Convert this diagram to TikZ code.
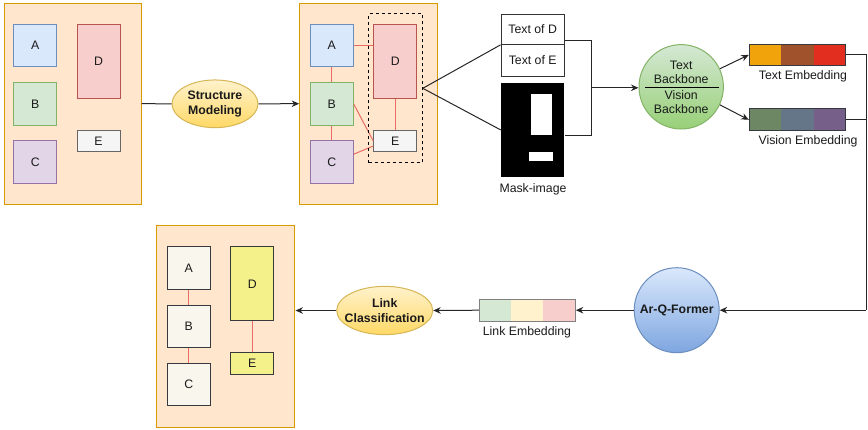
\documentclass[tikz,border=0pt]{standalone}
\usepackage{fontspec}
\setmainfont{Liberation Sans}
\usetikzlibrary{arrows.meta,calc,shapes.geometric}
\definecolor{pnlF}{HTML}{FFE6CC}\definecolor{pnlD}{HTML}{D79B00}
\definecolor{aF}{HTML}{DAE8FC}\definecolor{aD}{HTML}{6C8EBF}
\definecolor{bF}{HTML}{D5E8D4}\definecolor{bD}{HTML}{82B366}
\definecolor{cF}{HTML}{E1D5E7}\definecolor{cD}{HTML}{9673A6}
\definecolor{dF}{HTML}{F8CECC}\definecolor{dD}{HTML}{B85450}
\definecolor{eF}{HTML}{F5F5F5}\definecolor{eD}{HTML}{666666}
\definecolor{wF}{HTML}{F9F7ED}\definecolor{gD}{HTML}{36393D}
\definecolor{yF}{HTML}{F4F18A}
\definecolor{redl}{HTML}{EA6B66}
\definecolor{ylT}{HTML}{FFF2CC}\definecolor{ylB}{HTML}{FFD966}\definecolor{ylD}{HTML}{D6B656}
\definecolor{grT}{HTML}{D5E8D4}\definecolor{grB}{HTML}{97D077}
\definecolor{blT}{HTML}{DAE8FC}\definecolor{blB}{HTML}{7EA6E0}
\definecolor{t1}{HTML}{F0A30A}\definecolor{t2}{HTML}{A0522D}\definecolor{t3}{HTML}{E12E1E}
\definecolor{v1}{HTML}{6D8764}\definecolor{v2}{HTML}{647687}\definecolor{v3}{HTML}{76608A}
\definecolor{l1}{HTML}{D5E8D4}\definecolor{l2}{HTML}{FFF2CC}\definecolor{l3}{HTML}{F8CECC}
\definecolor{txt}{HTML}{1A1A1A}
\tikzset{
  every node/.style={font=\fontsize{12.3}{14}\selectfont, text=txt},
  panel/.style={draw=pnlD, fill=pnlF, line width=1pt, inner sep=0},
  bx/.style={line width=1pt, inner sep=0, minimum width=43, minimum height=42.5},
  tallbx/.style={line width=1pt, inner sep=0, minimum width=43, minimum height=74.5},
  flatbx/.style={line width=1pt, inner sep=0, minimum width=43, minimum height=21.7},
  stA/.style={draw=aD, fill=aF}, stB/.style={draw=bD, fill=bF}, stC/.style={draw=cD, fill=cF},
  stD/.style={draw=dD, fill=dF}, stE/.style={draw=eD, fill=eF},
  stW/.style={draw=gD, fill=wF}, stY/.style={draw=gD, fill=yF},
  rl/.style={draw=redl, line width=1pt},
  conn/.style={draw=black!85, line width=1pt},
  arr/.style={conn, -{Stealth[length=7.5pt,width=6.5pt]}},
  yell/.style={ellipse, draw=ylD, top color=ylT, bottom color=ylB, line width=1pt, inner sep=0},
  ytxt/.style={inner sep=0, font=\bfseries\fontsize{12.3}{14.5}\selectfont, align=center},
  seg/.style={inner sep=0, minimum width=32.13, minimum height=21.7},
  emb/.style={draw=gD, line width=1pt, inner sep=0, minimum width=96.4, minimum height=21.7},
  txtbox/.style={draw=black!80, fill=white, line width=1pt, inner sep=0, minimum width=63.3}
}
\begin{document}
\begin{tikzpicture}[x=1pt,y=-1pt]
\useasboundingbox (0,0) rectangle (868,429);
% ---------- panel 1
\node[panel, minimum width=137, minimum height=201] (P1) at (72.5,103.7) {};
\node[bx,stA] (A1) at (35.2,45.5) {A};
\node[bx,stB] (B1) at (35.2,104) {B};
\node[bx,stC] (C1) at (35.2,162.2) {C};
\node[tallbx,stD] (D1) at (98.5,61.5) {D};
\node[flatbx,stE] (E1) at (98.5,141) {E};
% ---------- structure modeling
\node[yell, minimum width=86, minimum height=47.7] (SM) at (215,103.8) {};
\node[ytxt] (SMT) at (SM.center) {Structure\\Modeling};
% ---------- panel 2
\node[panel, minimum width=138, minimum height=201] (P2) at (368.7,103.7) {};
\node[bx,stA] (A2) at (331.7,45.5) {A};
\node[bx,stB] (B2) at (331.7,104) {B};
\node[bx,stC] (C2) at (331.7,162.2) {C};
\node[tallbx,stD] (D2) at (395.3,61.5) {D};
\node[flatbx,stE] (E2) at (395.3,141) {E};
\draw[rl] (A2.east) -- (A2.east -| D2.west);
\draw[rl] (A2.south) -- (B2.north);
\draw[rl] (B2.south) -- (C2.north);
\draw[rl] (D2.south) -- (E2.north);
\draw[rl] (B2.east) -- (E2.west);
\draw[rl] ($(C2.east)+(0,-8)$) -- ($(E2.west)+(0,5)$);
\node[draw=black, dashed, line width=1pt, inner sep=0, minimum width=53.6, minimum height=148.7] (DS) at (395.5,88.3) {};
\draw[conn] (P1.east) -- (SM.west);
\draw[arr] (SM.east) -- (P2.west);
% ---------- text boxes and mask
\node[txtbox, minimum height=30.3] (TD) at (532.7,29.2) {Text of D};
\node[txtbox, minimum height=31.7] (TE) at (532.7,60.2) {Text of E};
\node[fill=black, inner sep=0, minimum width=63.3, minimum height=93.4] (MK) at (532.7,130) {};
\node[fill=white, inner sep=0, minimum width=20.7, minimum height=40.7] (MW1) at (541.3,114.7) {};
\node[fill=white, inner sep=0, minimum width=24.3, minimum height=9] (MW2) at (541.2,156.2) {};
\node (MKL) at (533,189.3) {Mask-image};
\draw[conn] (DS.east) -- (TD.south west);
\draw[conn] (DS.east) -- (MK.west);
% ---------- bracket into backbone
\node[circle, draw=bD, top color=grT, bottom color=grB, line width=1pt, inner sep=0, minimum size=84.4] (BB) at (681.2,86.8) {};
\draw[line width=1.6pt, black] ($(BB.center)+(-36,0.8)$) coordinate (bl) -- ($(BB.center)+(38,0.8)$) coordinate (br);
\node[align=center, inner sep=0, font=\fontsize{12.3}{14.5}\selectfont] (BT) at (681.2,72.5) {Text\\Backbone};
\node[align=center, inner sep=0, font=\fontsize{12.3}{14.5}\selectfont] (BV) at (681.2,102) {Vision\\Backbone};
\coordinate (J1) at (591.7,40.3);
\coordinate (J2) at (591.7,135.3);
\coordinate (J3) at (591.7,87.8);
\draw[conn] (TD.east |- J1) -- (J1) -- (J2) -- (MK.east |- J2);
\draw[arr] (J3) -- (BB.west |- J3);
% ---------- embeddings
\node[seg, fill=t1] (T1) at (765.4,54.9) {};
\node[seg, fill=t2] (T2) at (797.5,54.9) {};
\node[seg, fill=t3] (T3) at (829.6,54.9) {};
\node[emb] (TEm) at (797.5,54.9) {};
\node (TEL) at (803,76.7) {Text Embedding};
\node[seg, fill=v1] (V1) at (765.4,119.8) {};
\node[seg, fill=v2] (V2) at (797.5,119.8) {};
\node[seg, fill=v3] (V3) at (829.6,119.8) {};
\node[emb] (VEm) at (797.5,119.8) {};
\node (VEL) at (808,141.7) {Vision Embedding};
\draw[arr] (BB.25) -- (TEm.west);
\draw[arr] (BB.-25) -- (VEm.west);
% ---------- right side down to Ar-Q-Former
\node[circle, draw=aD, top color=blT, bottom color=blB, line width=1pt, inner sep=0, minimum size=85, font=\bfseries\fontsize{12.3}{14}\selectfont] (AQ) at (676.7,310.2) {Ar-Q-Former};
\coordinate (R1) at (866,54.9);
\coordinate (R2) at (866,119.8);
\coordinate (R3) at (866,310.2);
\draw[conn] (TEm.east) -- (R1) -- (R3);
\draw[conn] (VEm.east) -- (R2);
\draw[arr] (R3) -- (AQ.east);
% ---------- link embedding
\node[seg, fill=l1] (L1) at (495.3,310.2) {};
\node[seg, fill=l2] (L2) at (527.3,310.2) {};
\node[seg, fill=l3] (L3) at (559.3,310.2) {};
\node[emb, draw=gray, minimum width=96] (LEm) at (527.3,310.2) {};
\node (LEL) at (527,332.7) {Link Embedding};
\draw[arr] (AQ.west) -- (LEm.east);
\node[yell, minimum width=96, minimum height=48.3] (LC) at (384.7,310.5) {};
\node[ytxt] (LCT) at (LC.center) {Link\\Classification};
\draw[arr] (LEm.west) -- (LC.east);
% ---------- panel 3
\node[panel, minimum width=138.3, minimum height=202.3] (P3) at (225.8,326.2) {};
\node[bx,stW] (A3) at (188.7,268) {A};
\node[bx,stW] (B3) at (188.7,326.3) {B};
\node[bx,stW] (C3) at (188.7,384.5) {C};
\node[tallbx,stY, minimum height=74.3] (D3) at (252.3,283.8) {D};
\node[flatbx,stY] (E3) at (252.3,363.5) {E};
\draw[rl] (A3.south) -- (B3.north);
\draw[rl] (B3.south) -- (C3.north);
\draw[rl] (D3.south) -- (E3.north);
\draw[arr] (LC.west) -- (LC.west -| P3.east);
\end{tikzpicture}
\end{document}
